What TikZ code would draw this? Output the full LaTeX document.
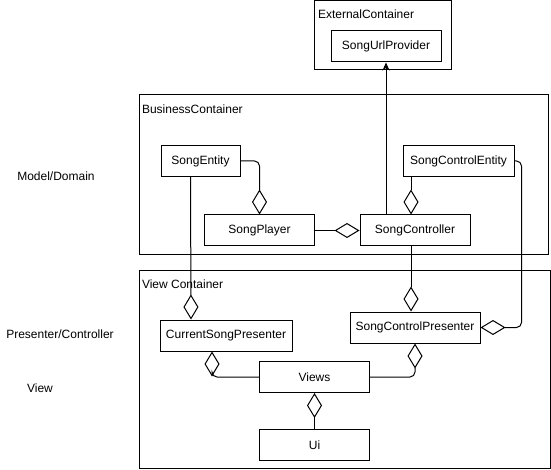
\documentclass[tikz,border=0pt]{standalone}
\usepackage{fontspec}
\setmainfont{Liberation Sans}
\usetikzlibrary{arrows.meta, positioning, calc}
\tikzset{
  every picture/.style={line width=1pt, font=\fontsize{12}{14}\selectfont},
  box/.style={draw, fill=white, minimum width=#1, minimum height=31, inner sep=0pt},
  box/.default=110,
  frame/.style={draw, inner sep=0pt},
  caption/.style={anchor=west, inner sep=0pt},
  agg/.style={-{Diamond[open, length=25pt, width=15pt]}, rounded corners=5pt},
  arrow/.style={-{Stealth[length=8pt, width=7pt]}},
}

\begin{document}
\begin{tikzpicture}[x=1pt, y=-1pt]
  \useasboundingbox (0,0) rectangle (551,470);
  % the three containers, each with its title in the top left corner
  \node[frame, minimum width=137, minimum height=69] (ext) at (382.5,35.5) {};
  \node[caption] at ([shift={(4,14)}]ext.north west) {ExternalContainer};
  \node[frame, minimum width=409, minimum height=160] (biz) at (343.5,175) {};
  \node[caption] at ([shift={(3,15)}]biz.north west) {BusinessContainer};
  \node[frame, minimum width=411, minimum height=198] (view) at (344.5,369) {};
  \node[caption] at ([shift={(3,15)}]view.north west) {View Container};
  % layer names on the left
  \node (lmodel) at (56,176) {Model/Domain};
  \node (lpres) at (60,334) {Presenter/Controller};
  \node (lview) at (40,388) {View};
  % classes
  \node[box] (url) at (386,46.5) {SongUrlProvider};
  \node[box=79] (ent) at (200.5,161) {SongEntity};
  \node[box=111] (centity) at (458.5,161) {SongControlEntity};
  \node[box] (player) at (259.5,230.5) {SongPlayer};
  \node[box] (ctrl) at (415,230.5) {SongController};
  \node[box=132] (cur) at (226,335.5) {CurrentSongPresenter};
  \node[box=130] (sctl) at (415,327.5) {SongControlPresenter};
  \node[box] (views) at (314.5,377) {Views};
  \node[box] (ui) at (314.5,445) {Ui};
  % connectors, diamond at the owning class
  \draw[arrow] (url.south |- ctrl.north) -- (url.south);
  \draw[agg] (ent.east) -| (player.north);
  \draw[agg] (player.east) -- (ctrl.west);
  \draw[agg] ([xshift=-4]ctrl.north |- centity.south) -- ([xshift=-4]ctrl.north);
  \draw[agg] ([xshift=-10]ent.south) -- ([xshift=-35]cur.north);
  \draw[agg] ([xshift=-4]ctrl.south) -- ([xshift=-4]sctl.north);
  \draw[agg] (centity.east) -- ++(7,0) |- (sctl.east);
  \draw[agg] (views.west) -| ([xshift=-14]cur.south);
  \draw[agg] (views.east) -| (sctl.south);
  \draw[agg] (ui.north) -- (views.south);
\end{tikzpicture}
\end{document}
